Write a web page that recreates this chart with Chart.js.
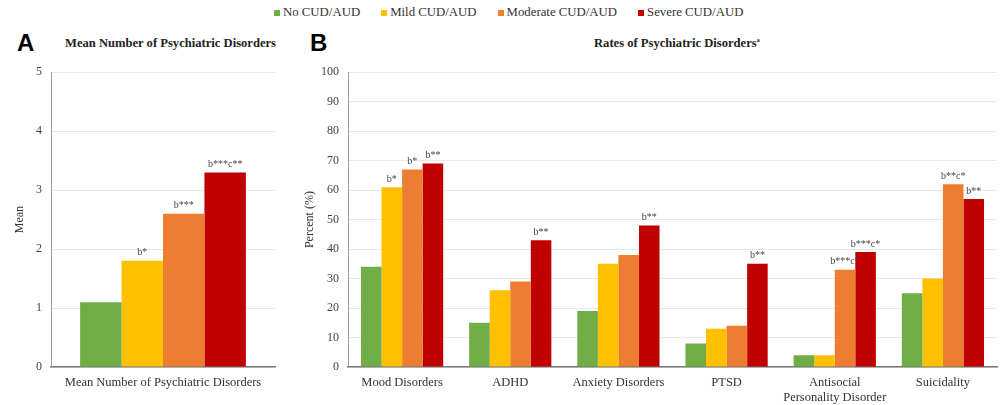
<!DOCTYPE html>
<html>
<head>
<meta charset="utf-8">
<script src="https://cdn.jsdelivr.net/npm/chart.js@4.4.0/dist/chart.umd.min.js"></script>
<style>
  body { margin: 0; background: #fff; width: 1003px; height: 405px; position: relative; overflow: hidden; font-family: "Liberation Serif", "Times New Roman", serif; }
  .legend { position: absolute; top: 5px; left: 274px; display: flex; gap: 21px; font-size: 12.8px; color: #333; }
  .legend span.item { display: flex; align-items: center; }
  .legend i { display: inline-block; width: 6px; height: 6px; margin-right: 3px; }
  .letter { position: absolute; font-family: "Liberation Sans", Arial, sans-serif; font-weight: bold; font-size: 24px; color: #000; }
  .ptitle { position: absolute; font-weight: bold; font-size: 12.6px; color: #222; white-space: nowrap; }
  .box { position: absolute; }
</style>
</head>
<body>
<div class="legend" id="legenda"></div>
<div class="letter" style="left:17px; top:29px;">A</div>
<div class="letter" style="left:310px; top:29px;">B</div>
<div class="ptitle" style="left:65px; top:36px;">Mean Number of Psychiatric Disorders</div>
<div class="ptitle" style="left:594px; top:36px;">Rates of Psychiatric Disorders<sup style="font-size:6px;">a</sup></div>
<div class="box" style="left:0; top:56px; width:285px; height:349px;"><canvas id="graficoA"></canvas></div>
<div class="box" style="left:290px; top:56px; width:713px; height:349px;"><canvas id="graficoB"></canvas></div>
<script>
// Grupos e cores
const grupos = ['No CUD/AUD', 'Mild CUD/AUD', 'Moderate CUD/AUD', 'Severe CUD/AUD'];
const cores = ['#70AD47', '#FFC000', '#ED7D31', '#C00000'];

// Painel A - média de transtornos
const categoriasA = ['Mean Number of Psychiatric Disorders'];
const mediaNenhum = [1.1];
const mediaLeve = [1.8];
const mediaModerado = [2.6];
const mediaGrave = [3.3];
const notasA = [[''], ['b*'], ['b***'], ['b***c**']];

// Painel B - taxas (%)
const categoriasB = ['Mood Disorders', 'ADHD', 'Anxiety Disorders', 'PTSD', ['Antisocial', 'Personality Disorder'], 'Suicidality'];
const taxaNenhum = [34, 15, 19, 8, 4, 25];
const taxaLeve = [61, 26, 35, 13, 4, 30];
const taxaModerado = [67, 29, 38, 14, 33, 62];
const taxaGrave = [69, 43, 48, 35, 39, 57];
const notasB = [
    ['', '', '', '', '', ''],
    ['b*', '', '', '', '', ''],
    ['b*', '', '', '', 'b***c*', 'b**c*'],
    ['b**', 'b**', 'b**', 'b**', 'b***c*', 'b**']
];

const ticksA = [0, 1, 2, 3, 4, 5];
const ticksB = [0, 10, 20, 30, 40, 50, 60, 70, 80, 90, 100];

// Legenda em HTML
const legenda = document.getElementById('legenda');
grupos.forEach((g, i) => {
    legenda.innerHTML += `<span class="item"><i style="background:${cores[i]}"></i>${g}</span>`;
});

// Plugin para escrever as anotações acima das barras
const pluginNotas = {
    id: 'notas',
    afterDatasetsDraw(chart, args, opts) {
        const ctx = chart.ctx;
        ctx.save();
        ctx.font = '10px "Liberation Serif"';
        ctx.fillStyle = '#444';
        ctx.textAlign = 'center';
        ctx.textBaseline = 'bottom';
        chart.data.datasets.forEach((ds, i) => {
            const meta = chart.getDatasetMeta(i);
            meta.data.forEach((bar, j) => {
                const txt = opts.notas[i][j];
                if (txt) ctx.fillText(txt, bar.x, bar.y - 3);
            });
        });
        ctx.restore();
    }
};

function montarDatasets(series) {
    return series.map((s, i) => ({
        label: grupos[i],
        data: s,
        backgroundColor: cores[i],
        borderWidth: 0
    }));
}

function opcoes(ticks, max, larguraY, tituloY, pct, notas) {
    return {
        responsive: true,
        maintainAspectRatio: false,
        animation: false,
        layout: { padding: { top: 9, right: pct ? 6 : 10, bottom: 0, left: 0 } },
        datasets: { bar: { categoryPercentage: pct ? 0.76 : 0.74, barPercentage: 1 } },
        scales: {
            x: {
                grid: { display: false, drawTicks: false },
                border: { color: '#777', width: 1.5 },
                ticks: { color: '#333', font: { family: 'Liberation Serif', size: 12.5, lineHeight: 1.15 }, padding: 9, maxRotation: 0, autoSkip: false },
                afterFit: s => { s.height = 38; }
            },
            y: {
                min: 0, max: max,
                afterBuildTicks: s => { s.ticks = ticks.map(v => ({ value: v })); },
                grid: { color: '#e8e8e8', drawTicks: false },
                border: { color: '#999', width: 1 },
                ticks: { color: '#444', font: { family: 'Liberation Serif', size: 12 }, padding: 9 },
                title: { display: true, text: tituloY, color: '#333', font: { family: 'Liberation Serif', size: 12 }, padding: { top: 13, bottom: 2 } },
                afterFit: s => { s.width = larguraY; }
            }
        },
        plugins: {
            legend: { display: false },
            tooltip: { enabled: false },
            notas: { notas: notas }
        }
    };
}

new Chart(document.getElementById('graficoA'), {
    type: 'bar',
    data: { labels: categoriasA, datasets: montarDatasets([mediaNenhum, mediaLeve, mediaModerado, mediaGrave]) },
    options: opcoes(ticksA, 5, 51, 'Mean', false, notasA),
    plugins: [pluginNotas]
});

new Chart(document.getElementById('graficoB'), {
    type: 'bar',
    data: { labels: categoriasB, datasets: montarDatasets([taxaNenhum, taxaLeve, taxaModerado, taxaGrave]) },
    options: opcoes(ticksB, 100, 58, 'Percent (%)', true, notasB),
    plugins: [pluginNotas]
});
</script>
</body>
</html>
